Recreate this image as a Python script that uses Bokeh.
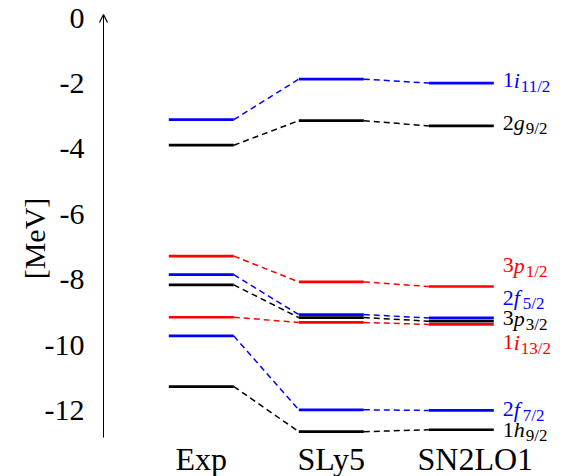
from bokeh.plotting import figure
from bokeh.models import ColumnDataSource, FixedTicker, Arrow, OpenHead, PrintfTickFormatter
from bokeh.core.properties import value
from bokeh.embed import file_html
from bokeh.resources import INLINE

# ---- data ----
methods = ["Exp", "SLy5", "SN2LO1"]
orb_n = ["1", "2", "3", "2", "3", "1", "2", "1"]
orb_l = ["i", "g", "p", "f", "p", "i", "f", "h"]
orb_j = ["11/2", "9/2", "1/2", "5/2", "3/2", "13/2", "7/2", "9/2"]
orb_color = ["blue", "black", "red", "blue", "black", "red", "blue", "black"]
e_exp = [-3.11, -3.89, -7.28, -7.85, -8.16, -9.15, -9.72, -11.27]
e_sly5 = [-1.87, -3.14, -8.07, -9.07, -9.16, -9.31, -11.98, -12.65]
e_sn2lo1 = [-1.99, -3.30, -8.21, -9.17, -9.27, -9.37, -12.00, -12.59]
y_ticks = [0, -2, -4, -6, -8, -10, -12]

# ---- layout helpers ----
FONT = "Liberation Serif"
half = 0.25
axis_x = 0.2477  # data x of the drawn vertical axis
label_dy = [-3, -3, -21, -20, -3, 18, -1, 0]  # screen px offset of orbital labels
letter_w = {"i": 6, "g": 11, "p": 11, "f": 8, "h": 11}

p = figure(width=574, height=476, output_backend="svg", toolbar_location=None,
           x_range=(0.1938, 3.871), y_range=(-14.02, 0.535),
           x_axis_location=None, min_border_left=96, min_border_right=0,
           min_border_top=0, min_border_bottom=0)
p.outline_line_color = None
p.grid.visible = False
p.background_fill_color = "white"
p.border_fill_color = "white"

yax = p.yaxis[0]
yax.ticker = FixedTicker(ticks=y_ticks)
yax.formatter = PrintfTickFormatter(format="%d")
yax.axis_line_color = None
yax.major_tick_line_color = None
yax.minor_tick_line_color = None
yax.major_tick_out = 0
yax.major_tick_in = 0
yax.minor_tick_out = 0
yax.minor_tick_in = 0
yax.major_label_standoff = 12
yax.major_label_text_font = FONT
yax.major_label_text_font_size = "30px"
yax.major_label_text_color = "black"
yax.axis_label = "[MeV]"
yax.axis_label_text_font = FONT
yax.axis_label_text_font_style = "normal"
yax.axis_label_text_font_size = "30px"
yax.axis_label_text_color = "black"
yax.axis_label_standoff = -9

energies = [e_exp, e_sly5, e_sn2lo1]
cols = [1, 2, 3]

# dashed connectors
for k in range(2):
    src = ColumnDataSource(dict(x0=[cols[k] + half] * len(orb_n), y0=energies[k],
                                x1=[cols[k + 1] - half] * len(orb_n), y1=energies[k + 1],
                                c=orb_color))
    p.segment("x0", "y0", "x1", "y1", source=src, line_color="c",
              line_width=1.5, line_dash="6 4")

# level bars
for k in range(3):
    src = ColumnDataSource(dict(x0=[cols[k] - half] * len(orb_n), y=energies[k],
                                x1=[cols[k] + half] * len(orb_n), c=orb_color))
    p.segment("x0", "y", "x1", "y", source=src, line_color="c", line_width=2.7)

# category labels
p.text(x=[1, 2, 3], y=[-13.47] * 3, text=methods, x_offset=[0, 0, 14],
       text_align="center", text_baseline="middle", text_font=value(FONT),
       text_font_size="32px", text_color="black")

# orbital labels
xe = [3 + half] * len(orb_n)
p.text(x=xe, y=e_sn2lo1, text=orb_n, x_offset=9, y_offset=label_dy,
       text_align="left", text_baseline="middle", text_font=value(FONT),
       text_font_size="22px", text_color=orb_color)
p.text(x=xe, y=e_sn2lo1, text=orb_l, x_offset=20, y_offset=label_dy,
       text_align="left", text_baseline="middle", text_font=value(FONT),
       text_font_style="italic", text_font_size="22px", text_color=orb_color)
p.text(x=xe, y=e_sn2lo1, text=orb_j,
       x_offset=[20 + letter_w[l] + 1 for l in orb_l],
       y_offset=[d + 6 for d in label_dy],
       text_align="left", text_baseline="middle", text_font=value(FONT),
       text_font_size="17px", text_color=orb_color)

# vertical axis arrow
p.add_layout(Arrow(end=OpenHead(size=8, line_width=1.2, line_color="black"),
                   x_start=axis_x, y_start=-12.83, x_end=axis_x, y_end=0.11,
                   line_width=1, line_color="black"))

open("out.html", "w").write(file_html(p, INLINE))
